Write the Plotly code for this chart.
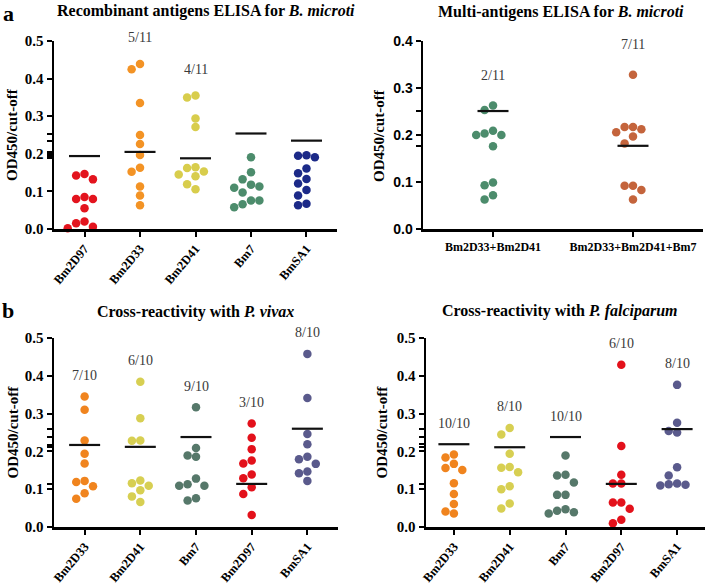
import plotly.graph_objects as go

W, H = 709, 585

# ---------------- Data ----------------
# Panel a (left): Recombinant antigens ELISA for B. microti
a1_cats = ["Bm2D97", "Bm2D33", "Bm2D41", "Bm7", "BmSA1"]
a1_bm2d97 = [0.146, 0.142, 0.132, 0.085, 0.080, 0.080, 0.055, 0.020, 0.015, 0.006, 0.002]
a1_bm2d33 = [0.439, 0.425, 0.335, 0.250, 0.226, 0.197, 0.163, 0.152, 0.113, 0.089, 0.063]
a1_bm2d41 = [0.355, 0.350, 0.294, 0.271, 0.164, 0.162, 0.153, 0.145, 0.140, 0.119, 0.106]
a1_bm7 = [0.191, 0.151, 0.132, 0.118, 0.113, 0.110, 0.097, 0.076, 0.076, 0.066, 0.058]
a1_bmsa1 = [0.196, 0.195, 0.191, 0.161, 0.148, 0.133, 0.121, 0.104, 0.089, 0.067, 0.063]
a1_lines = [0.194, 0.205, 0.188, 0.254, 0.235]
a1_labels = ["", "5/11", "4/11", "", ""]

# Panel a (right): Multi-antigens ELISA for B. microti
a2_cats = ["Bm2D33+Bm2D41", "Bm2D33+Bm2D41+Bm7"]
a2_combo2 = [0.263, 0.253, 0.209, 0.203, 0.200, 0.200, 0.176, 0.099, 0.093, 0.072, 0.063]
a2_combo3 = [0.328, 0.217, 0.217, 0.212, 0.206, 0.197, 0.182, 0.092, 0.092, 0.083, 0.063]
a2_lines = [0.251, 0.177]
a2_labels = ["2/11", "7/11"]

# Panel b (left): Cross-reactivity with P. vivax
b1_cats = ["Bm2D33", "Bm2D41", "Bm7", "Bm2D97", "BmSA1"]
b1_bm2d33 = [0.345, 0.310, 0.229, 0.194, 0.168, 0.122, 0.119, 0.108, 0.089, 0.075]
b1_bm2d41 = [0.384, 0.288, 0.229, 0.228, 0.123, 0.116, 0.109, 0.097, 0.081, 0.066]
b1_bm7 = [0.317, 0.209, 0.189, 0.186, 0.128, 0.113, 0.109, 0.109, 0.076, 0.070]
b1_bm2d97 = [0.274, 0.236, 0.206, 0.176, 0.168, 0.139, 0.129, 0.105, 0.087, 0.032]
b1_bmsa1 = [0.458, 0.341, 0.246, 0.219, 0.186, 0.179, 0.167, 0.147, 0.142, 0.122]
b1_lines = [0.217, 0.212, 0.238, 0.114, 0.260]
b1_labels = ["7/10", "6/10", "9/10", "3/10", "8/10"]

# Panel b (right): Cross-reactivity with P. falciparum
b2_cats = ["Bm2D33", "Bm2D41", "Bm7", "Bm2D97", "BmSA1"]
b2_bm2d33 = [0.192, 0.184, 0.167, 0.156, 0.151, 0.116, 0.087, 0.061, 0.041, 0.036]
b2_bm2d41 = [0.262, 0.245, 0.194, 0.159, 0.157, 0.145, 0.108, 0.100, 0.062, 0.049]
b2_bm7 = [0.189, 0.138, 0.136, 0.118, 0.085, 0.085, 0.047, 0.043, 0.039, 0.036]
b2_bm2d97 = [0.429, 0.214, 0.138, 0.115, 0.115, 0.065, 0.065, 0.048, 0.019, 0.010]
b2_bmsa1 = [0.376, 0.276, 0.254, 0.250, 0.158, 0.136, 0.115, 0.113, 0.112, 0.110]
b2_lines = [0.219, 0.211, 0.238, 0.114, 0.259]
b2_labels = ["10/10", "8/10", "10/10", "6/10", "8/10"]

# ---------------- Styling ----------------
SERIF = "Liberation Serif"
SANS = "Liberation Sans"

panels = [
    dict(cats=a1_cats, series=[a1_bm2d97, a1_bm2d33, a1_bm2d41, a1_bm7, a1_bmsa1],
         colors=["#e3141e", "#f39325", "#d8cd4c", "#4c8c6c", "#1c2a88"],
         lines=a1_lines, labels=a1_labels,
         px=(54, 337, 41, 229), xr=[-0.55, 4.55], yr=[0, 0.5], yt=[0, 0.1, 0.2, 0.3, 0.4, 0.5],
         tickfont=SERIF, tickangle=-50, labshift=26,
         title="Recombinant antigens ELISA for <i>B. microti</i>", tpos=(206, 11), ylab_x=12),
    dict(cats=a2_cats, series=[a2_combo2, a2_combo3],
         colors=["#4c8c6c", "#c4643c"],
         lines=a2_lines, labels=a2_labels,
         px=(423, 703, 41, 229), xr=[-0.5, 1.5], yr=[0, 0.4], yt=[0, 0.1, 0.2, 0.3, 0.4],
         tickfont=SANS, tickangle=0, labshift=30,
         title="Multi-antigens ELISA for <i>B. microti</i>", tpos=(561, 12), ylab_x=379),
    dict(cats=b1_cats, series=[b1_bm2d33, b1_bm2d41, b1_bm7, b1_bm2d97, b1_bmsa1],
         colors=["#f0841e", "#d7cf52", "#56786a", "#e3111b", "#5a5a8c"],
         lines=b1_lines, labels=b1_labels,
         px=(54, 338, 338, 527), xr=[-0.55, 4.55], yr=[0, 0.5], yt=[0, 0.1, 0.2, 0.3, 0.4, 0.5],
         tickfont=SERIF, tickangle=-50, labshift=21,
         title="Cross-reactivity with <i>P. vivax</i>", tpos=(195, 312), ylab_x=12),
    dict(cats=b2_cats, series=[b2_bm2d33, b2_bm2d41, b2_bm7, b2_bm2d97, b2_bmsa1],
         colors=["#f0841e", "#d7cf52", "#56786a", "#e3111b", "#5a5a8c"],
         lines=b2_lines, labels=b2_labels,
         px=(426, 705, 338, 527), xr=[-0.5, 4.5], yr=[0, 0.5], yt=[0, 0.1, 0.2, 0.3, 0.4, 0.5],
         tickfont=SERIF, tickangle=-50, labshift=21,
         title="Cross-reactivity with <i>P. falciparum</i>", tpos=(560, 311), ylab_x=381),
]


def swarm(values, ypx, d=8.4, step=8.4):
    order = sorted(range(len(values)), key=lambda i: -values[i])
    cands = [0, -1, 1, -2, 2, -3, 3, -4, 4]
    placed = []
    offs = [0.0] * len(values)
    for i in order:
        y = values[i] * ypx
        x = 0.0
        for c in cands:
            x = c * step
            if all((x - qx) ** 2 + (y - qy) ** 2 >= d * d for qx, qy in placed):
                break
        placed.append((x, y))
        offs[i] = x
    return offs


fig = go.Figure()
annotations = []
layout = {}

for k, p in enumerate(panels):
    sfx = "" if k == 0 else str(k + 1)
    xa, ya = "x" + sfx, "y" + sfx
    l, r, t, b = p["px"]
    xpx = (r - l) / (p["xr"][1] - p["xr"][0])
    ypx = (b - t) / (p["yr"][1] - p["yr"][0])
    for i, (vals, col) in enumerate(zip(p["series"], p["colors"])):
        offs = swarm(vals, ypx)
        fig.add_trace(go.Scatter(
            x=[i + o / xpx for o in offs], y=vals, mode="markers",
            marker=dict(size=8.5, color=col, line=dict(width=0)),
            xaxis=xa, yaxis=ya, showlegend=False, cliponaxis=False))
        hw = 15.5 / xpx
        m = p["lines"][i]
        fig.add_trace(go.Scatter(
            x=[i - hw, i + hw], y=[m, m], mode="lines",
            line=dict(color="#111111", width=2.2),
            xaxis=xa, yaxis=ya, showlegend=False, cliponaxis=False))
        if p["labels"][i]:
            annotations.append(dict(
                x=i, y=max(max(vals), m), xref=xa, yref=ya, text=p["labels"][i],
                showarrow=False, yanchor="middle", yshift=p["labshift"],
                font=dict(family=SERIF, size=14, color="#3a3a3a")))
    tickvals = list(p["yt"]) + list(p["lines"])
    ticktext = ["%.1f" % v for v in p["yt"]] + [""] * len(p["lines"])
    layout["xaxis" + sfx] = dict(
        domain=[l / W, r / W], anchor=ya, range=p["xr"], automargin=False,
        tickvals=list(range(len(p["cats"]))), ticktext=p["cats"], tickangle=p["tickangle"],
        showline=True, linecolor="black", linewidth=2.5, ticks="outside", ticklen=5,
        tickwidth=2, tickcolor="black", showgrid=False, zeroline=False,
        tickfont=dict(family=SERIF, size=12.5 if p["tickangle"] else 12, color="black", weight="bold"))
    layout["yaxis" + sfx] = dict(
        domain=[1 - b / H, 1 - t / H], anchor=xa, range=p["yr"], automargin=False,
        tickvals=tickvals, ticktext=ticktext,
        showline=True, linecolor="black", linewidth=2.5, ticks="outside", ticklen=5,
        tickwidth=2, tickcolor="black", showgrid=False, zeroline=False,
        tickfont=dict(family=p["tickfont"], size=15 if p["tickfont"] == SERIF else 14,
                      color="black", weight="bold"))
    annotations.append(dict(
        x=p["tpos"][0] / W, y=1 - p["tpos"][1] / H, xref="paper", yref="paper",
        text=p["title"], showarrow=False, xanchor="center", yanchor="middle",
        font=dict(family=SERIF, size=16, color="black", weight="bold")))
    annotations.append(dict(
        x=p["ylab_x"] / W, y=1 - (t + b) / 2 / H, xref="paper", yref="paper",
        text="OD450/cut-off", showarrow=False, textangle=-90,
        xanchor="center", yanchor="middle",
        font=dict(family=SERIF, size=15, color="black", weight="bold")))

for letter, (lx, ly) in [("a", (8, 13)), ("b", (8, 310))]:
    annotations.append(dict(
        x=lx / W, y=1 - ly / H, xref="paper", yref="paper", text=letter,
        showarrow=False, xanchor="center", yanchor="middle",
        font=dict(family=SERIF, size=22, color="black", weight="bold")))

fig.update_layout(
    width=W, height=H, margin=dict(l=0, r=0, t=0, b=0, autoexpand=False),
    paper_bgcolor="white", plot_bgcolor="white", hovermode=False,
    annotations=annotations, **layout)

fig.write_html("out.html", config={"displayModeBar": False, "staticPlot": True},
               post_script="document.body.style.margin='0';document.body.style.overflow='hidden';")
